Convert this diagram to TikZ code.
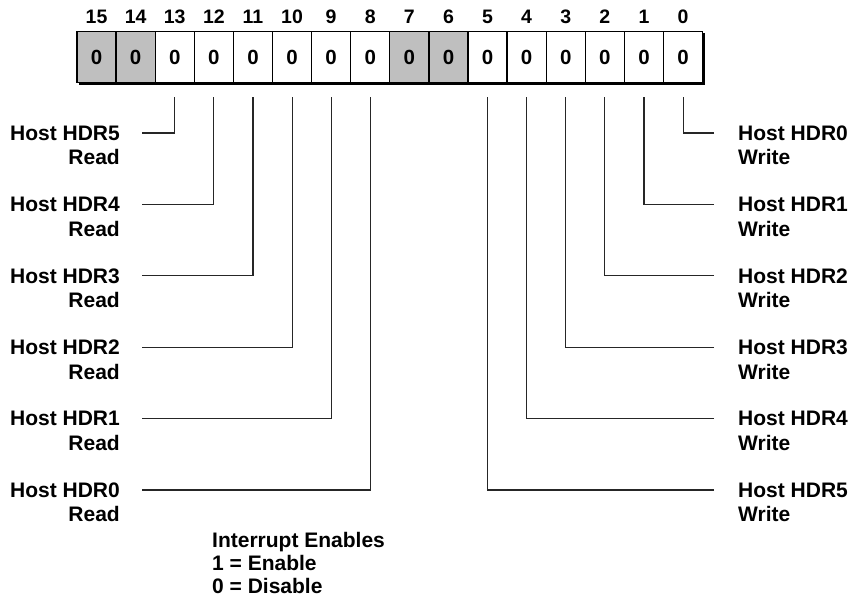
\documentclass[tikz,border=0pt]{standalone}
\usepackage{fontspec}
\setmainfont{Liberation Sans}
\begin{document}
\begin{tikzpicture}[x=1pt,y=-1pt,
  cell/.style={draw, line width=1.3pt, minimum width=39.1pt, minimum height=51.5pt, inner sep=0pt,
    font=\fontsize{20.5}{22}\selectfont\bfseries},
  bitnum/.style={inner sep=0pt, font=\fontsize{19.5}{22}\selectfont\bfseries},
  lbl/.style={inner sep=0pt, font=\fontsize{21}{24.5}\selectfont\bfseries},
  conn/.style={line width=1.1pt, draw=black!85}]
\useasboundingbox (0,0) rectangle (855,598);
% drop shadow of the register
\fill[black] (79,33) rectangle (705,85);
\foreach \b/\f in {15/black!25,14/black!25,13/white,12/white,11/white,10/white,9/white,8/white,
                   7/black!25,6/black!25,5/white,4/white,3/white,2/white,1/white,0/white}{
  \pgfmathsetmacro\xc{77+(15-\b+0.5)*39.1}
  \node[cell, fill=\f] (c\b) at (\xc,57) {0};
  \node[bitnum] (n\b) at (\xc,17) {\b};
}
% read enables (bits 13..8)
\foreach \b/\i in {13/0,12/1,11/2,10/3,9/4,8/5}{
  \pgfmathsetmacro\xc{77+(15-\b+0.5)*39.1}
  \pgfmathsetmacro\yl{133+\i*71.4}
  \pgfmathtruncatemacro\h{5-\i}
  \coordinate (t\b) at (\xc,97);
  \coordinate (e\b) at (142,\yl);
  \draw[conn] (e\b) -| (t\b);
  \node[lbl, anchor=north east, align=right] (L\b) at (120,\yl-7.5) {Host HDR\h\\Read};
}
% write enables (bits 0..5)
\foreach \b in {0,...,5}{
  \pgfmathsetmacro\xc{77+(15-\b+0.5)*39.1}
  \pgfmathsetmacro\yl{133+\b*71.4}
  \coordinate (t\b) at (\xc,97);
  \coordinate (e\b) at (714,\yl);
  \draw[conn] (e\b) -| (t\b);
  \node[lbl, anchor=north west, align=left] (L\b) at (738,\yl-7.5) {Host HDR\b\\Write};
}
\node[lbl, anchor=north west, align=left, font=\fontsize{21}{23}\selectfont\bfseries] (legend) at (212,532.5)
  {Interrupt Enables\\1 = Enable\\0 = Disable};
\end{tikzpicture}
\end{document}
